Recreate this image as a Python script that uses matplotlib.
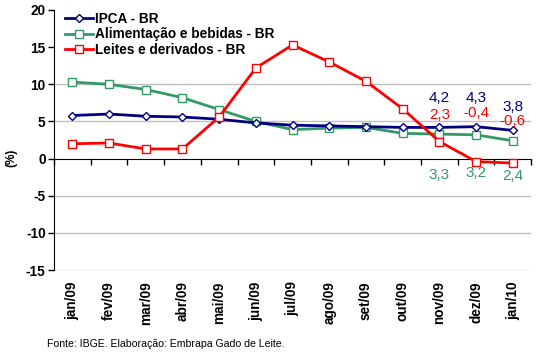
import numpy as np
import matplotlib.pyplot as plt

meses = ["jan/09", "fev/09", "mar/09", "abr/09", "mai/09", "jun/09", "jul/09",
         "ago/09", "set/09", "out/09", "nov/09", "dez/09", "jan/10"]
ipca = [5.8, 6.0, 5.7, 5.6, 5.3, 4.8, 4.5, 4.4, 4.3, 4.2, 4.2, 4.3, 3.8]
alimentacao = [10.3, 10.0, 9.3, 8.2, 6.6, 5.0, 3.9, 4.1, 4.2, 3.4, 3.3, 3.2, 2.4]
leites = [2.0, 2.1, 1.3, 1.3, 5.6, 12.2, 15.3, 13.0, 10.4, 6.7, 2.3, -0.4, -0.6]

# rotulos dos tres ultimos meses (indice, valor, altura do texto)
rot_ipca = [(10, "4,2", 8.2), (11, "4,3", 8.1), (12, "3,8", 7.0)]
rot_leites = [(10, "2,3", 5.9), (11, "-0,4", 6.2), (12, "-0,6", 5.0)]
rot_alim = [(10, "3,3", -2.2), (11, "3,2", -1.9), (12, "2,4", -2.3)]

AZUL = "#000080"
VERDE = "#339966"
VERMELHO = "#FF0000"
FONTE = "Liberation Sans"

plt.rcParams['font.family'] = [FONTE, 'DejaVu Sans']
plt.rcParams['axes.unicode_minus'] = False

fig = plt.figure(figsize=(5.36, 3.54), dpi=100)
ax = fig.add_axes([0.1007, 0.237, 0.8903, 0.7348])

x = np.arange(len(meses))

for yv in [10, 5, -5, -10, -15]:
    ax.axhline(yv, color="#C0C0C0", lw=1, zorder=0)

ax.plot(x, ipca, color=AZUL, lw=2, marker="D", ms=4.5, mfc="white",
        mec=AZUL, mew=1, label="IPCA - BR", zorder=3)
ax.plot(x, alimentacao, color=VERDE, lw=2, marker="s", ms=5.5, mfc="white",
        mec=VERDE, mew=1, label="Alimentação e bebidas - BR", zorder=2)
ax.plot(x, leites, color=VERMELHO, lw=2, marker="s", ms=5.5, mfc="white",
        mec=VERMELHO, mew=1, label="Leites e derivados - BR", zorder=4)

for rots, cor in [(rot_ipca, AZUL), (rot_leites, VERMELHO), (rot_alim, VERDE)]:
    for i, txt, yt in rots:
        ax.text(x[i], yt, txt, color=cor, fontsize=11, ha="center",
                va="center")

ax.set_xlim(-0.5, len(meses) - 0.5)
ax.set_ylim(-15, 20)
ax.set_yticks(np.arange(-15, 21, 5))
ax.tick_params(axis="y", length=4, width=1, labelsize=9.8, pad=2)
for lb in ax.get_yticklabels():
    lb.set_fontweight("bold")

# eixo x na linha do zero, com tracos entre as categorias
ax.spines["top"].set_visible(False)
ax.spines["right"].set_visible(False)
ax.spines["bottom"].set_position(("data", 0))
ax.set_xticks(np.arange(-0.5, len(meses), 1.0))
ax.set_xticklabels([])
ax.tick_params(axis="x", length=4, width=1, direction="out")

sec = ax.secondary_xaxis("bottom")
sec.spines["bottom"].set_visible(False)
sec.set_xticks(x)
sec.set_xticklabels(meses, rotation=90, fontsize=9.8, fontweight="bold")
sec.tick_params(length=0, pad=8)

ax.legend(loc="upper left", bbox_to_anchor=(0.005, 1.025), frameon=False,
          prop={"size": 9.8, "weight": "bold"}, labelspacing=0.12,
          handlelength=2.1, handletextpad=0.15, borderaxespad=0.2)

fig.text(0.022, 0.555, "(%)", rotation=90, fontsize=8.5, fontweight="bold",
         ha="center", va="center")
fig.text(0.088, 0.028, "Fonte: IBGE. Elaboração: Embrapa Gado de Leite.",
         fontsize=7.6, ha="left", va="center")

fig.savefig("out.png", dpi=100)
